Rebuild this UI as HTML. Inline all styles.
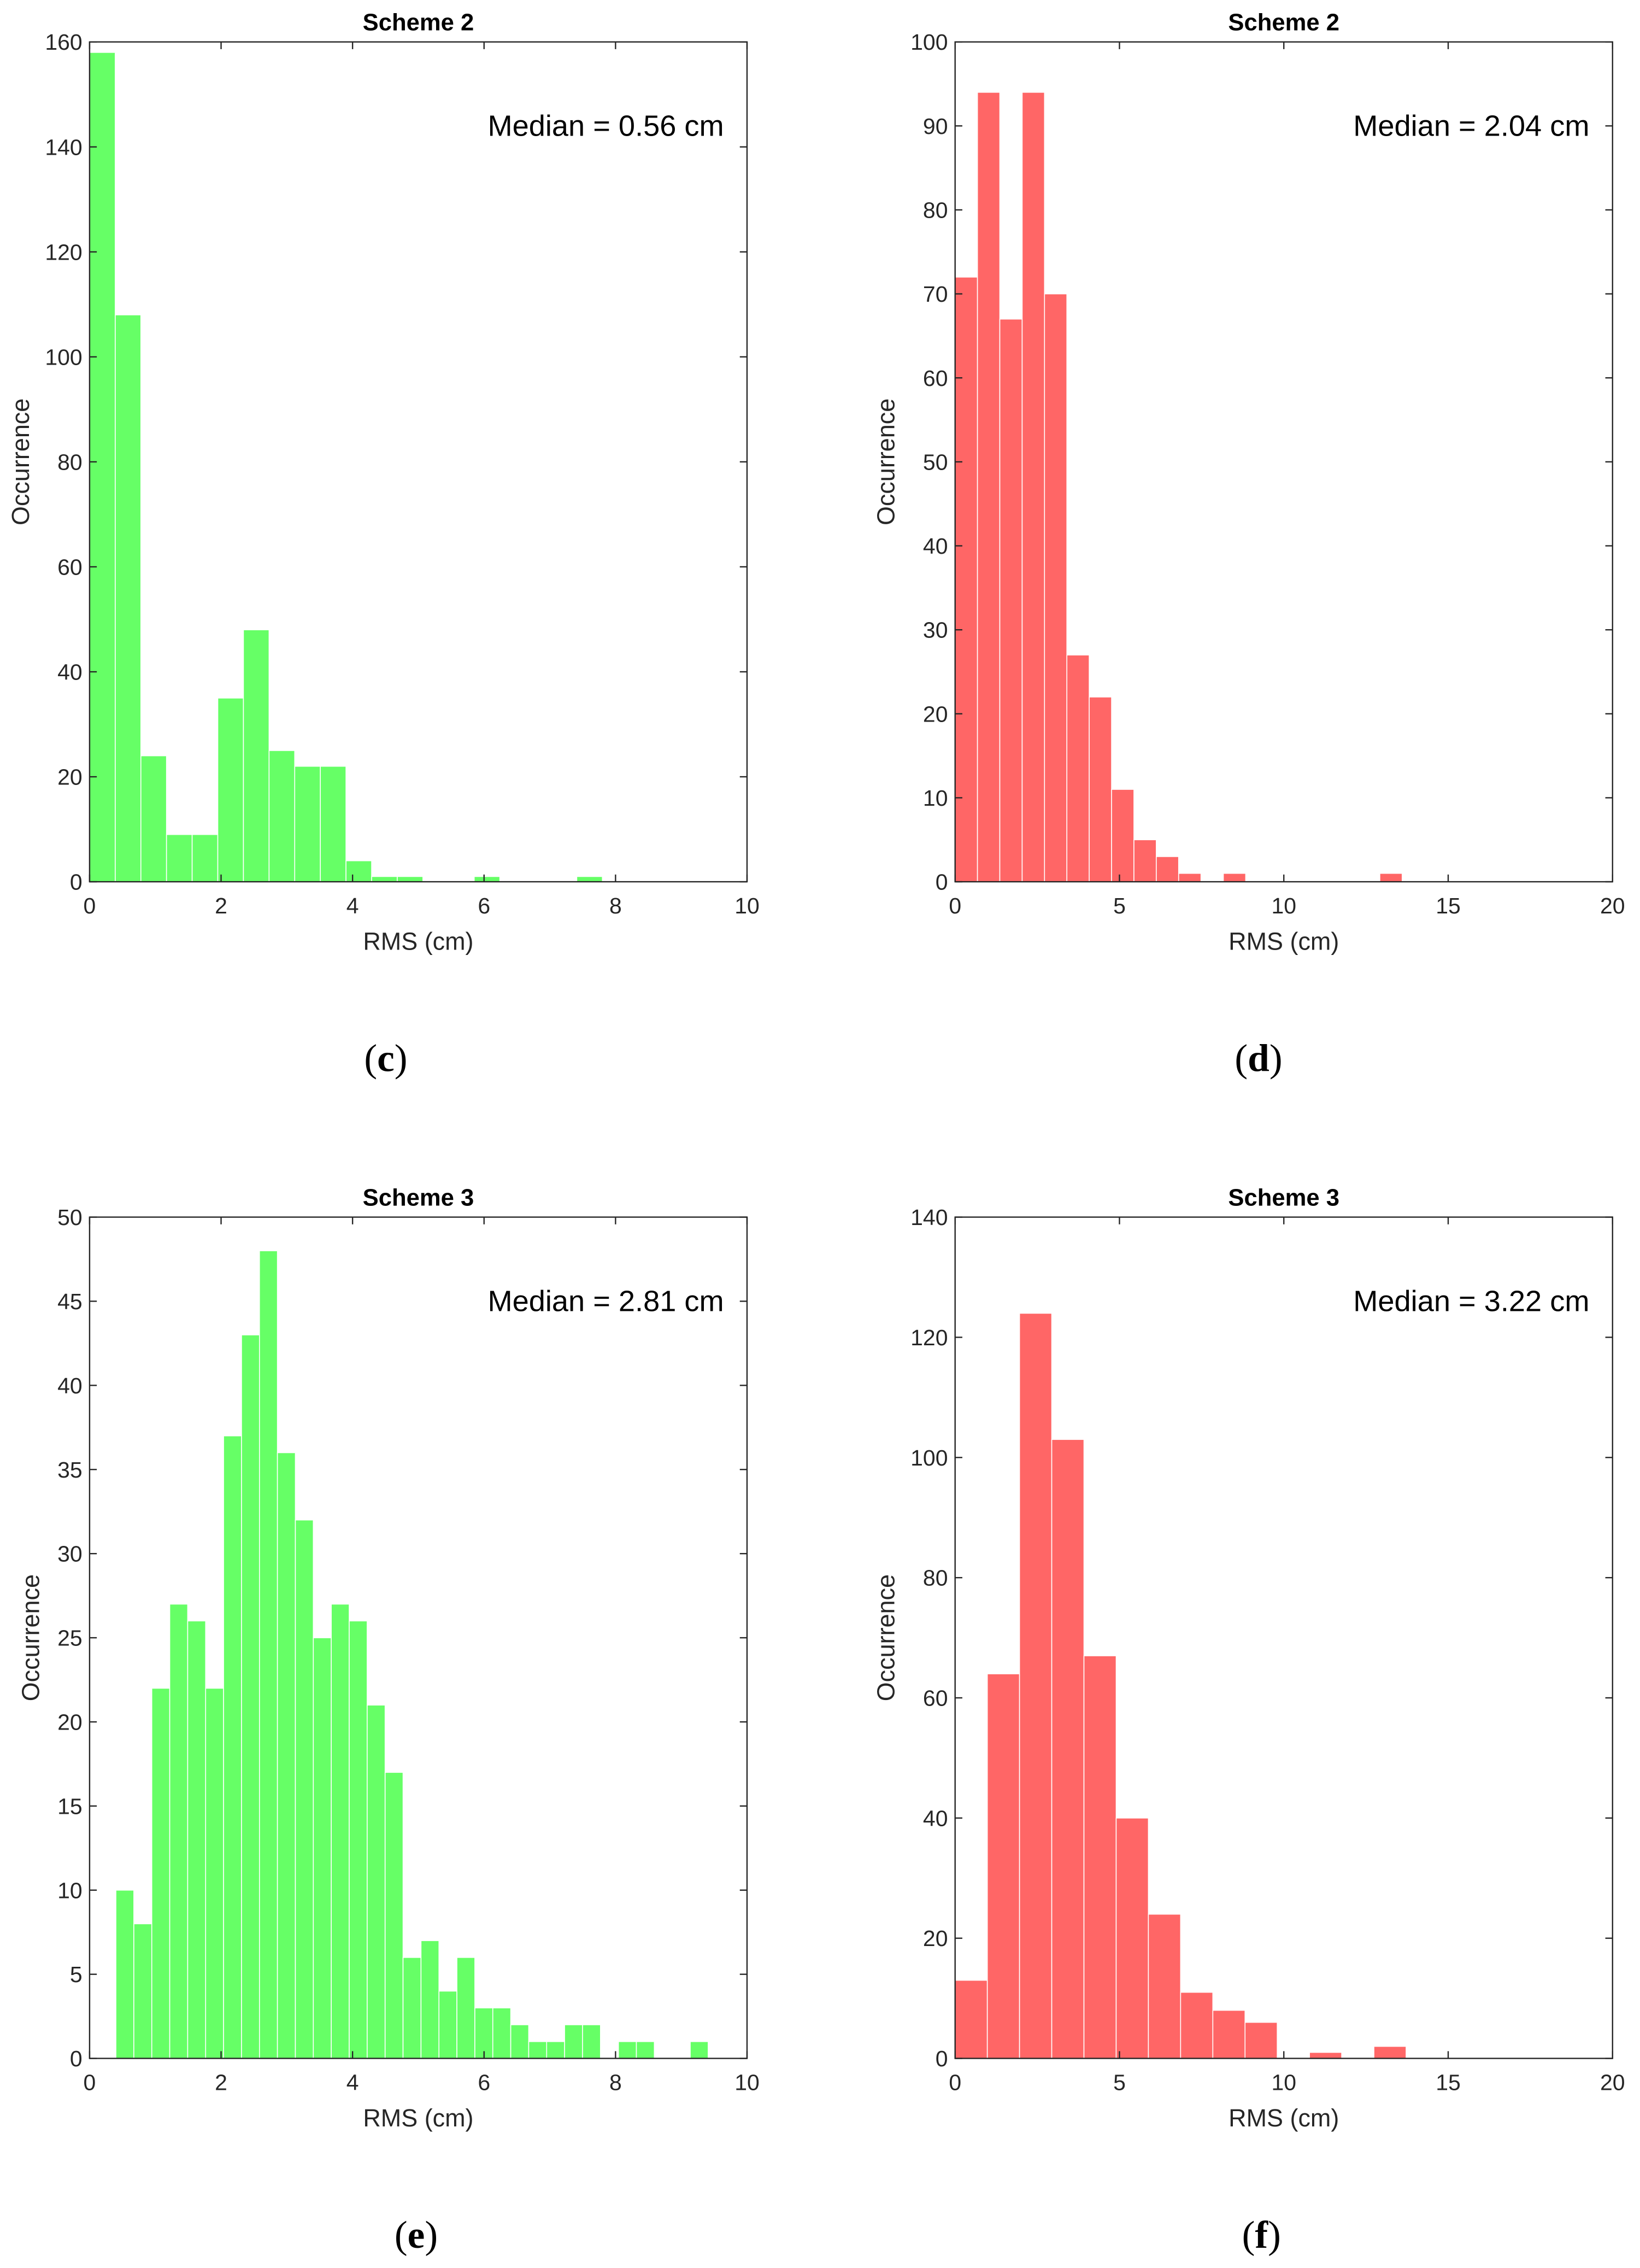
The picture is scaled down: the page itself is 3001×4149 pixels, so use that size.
<!DOCTYPE html>
<html><head><meta charset="utf-8"><style>
html,body{margin:0;padding:0;background:#fff;}
svg{display:block;font-family:"Liberation Sans",sans-serif;}
</style></head><body>
<svg id="fig" width="3001" height="4149" viewBox="0 0 1135 1569" preserveAspectRatio="none" xmlns="http://www.w3.org/2000/svg"></svg>
<script>
// Panel (c) Scheme 2 green
const cStart = 0, cWidth = 0.39;
const cCounts = [158,108,24,9,9,35,48,25,22,22,4,1,1,0,0,1,0,0,0,1];
const cYTicks = [0,20,40,60,80,100,120,140,160];
const cXTicks = [0,2,4,6,8,10];
// Panel (d) Scheme 2 red
const dStart = 0, dWidth = 0.68;
const dCounts = [72,94,67,94,70,27,22,11,5,3,1,0,1,0,0,0,0,0,0,1];
const dYTicks = [0,10,20,30,40,50,60,70,80,90,100];
const dXTicks = [0,5,10,15,20];
// Panel (e) Scheme 3 green
const eStart = 0.4, eWidth = 0.273;
const eCounts = [10,8,22,27,26,22,37,43,48,36,32,25,27,26,21,17,6,7,4,6,3,3,2,1,1,2,2,0,1,1,0,0,1];
const eYTicks = [0,5,10,15,20,25,30,35,40,45,50];
const eXTicks = [0,2,4,6,8,10];
// Panel (f) Scheme 3 red
const fStart = 0, fWidth = 0.98;
const fCounts = [13,64,124,103,67,40,24,11,8,6,0,1,0,2];
const fYTicks = [0,20,40,60,80,100,120,140];
const fXTicks = [0,5,10,15,20];

const NS = "http://www.w3.org/2000/svg";
const svg = document.getElementById('fig');
function mk(tag, attrs, parent, txt){
  const e = document.createElementNS(NS, tag);
  for (const k in attrs) e.setAttribute(k, attrs[k]);
  if (txt !== undefined) e.textContent = txt;
  parent.appendChild(e); return e;
}
function panel(id, x0, x1, y0, y1, xmax, ymax, start, width, counts, yt, xt, color, title, median, label, labelX, labelY){
  const g = mk('g', {}, svg);
  
  
  const sx = v => x0 + (v / xmax) * (x1 - x0);
  const sy = v => y1 - (v / ymax) * (y1 - y0);
  counts.forEach((c, i) => {
    if (c <= 0) return;
    const a = sx(start + i * width), b = sx(start + (i + 1) * width);
    const r = mk('rect', {x:a, y:sy(c), width:b - a, height:sy(0) - sy(c), fill:color, stroke:'#ffffff', 'stroke-width':0.6}, g);
    
    
  });
  const box = mk('rect', {x:x0, y:y0, width:x1 - x0, height:y1 - y0, fill:'none', stroke:'#262626', 'stroke-width':0.9}, g);
  
  
  yt.forEach(v => {
    const y = sy(v);
    mk('line', {x1:x0, x2:x0 + 5, y1:y, y2:y, stroke:'#262626', 'stroke-width':0.9}, g);
    mk('line', {x1:x1, x2:x1 - 5, y1:y, y2:y, stroke:'#262626', 'stroke-width':0.9}, g);
    const t = mk('text', {x:x0 - 5, y:y + 5.5, 'text-anchor':'end', 'font-size':15.5, fill:'#262626'}, g, String(v));
    
    
  });
  xt.forEach(v => {
    const x = sx(v);
    mk('line', {x1:x, x2:x, y1:y1, y2:y1 - 5, stroke:'#262626', 'stroke-width':0.9}, g);
    mk('line', {x1:x, x2:x, y1:y0, y2:y0 + 5, stroke:'#262626', 'stroke-width':0.9}, g);
    const t = mk('text', {x:x, y:y1 + 22, 'text-anchor':'middle', 'font-size':15.5, fill:'#262626'}, g, String(v));
    
    
  });
  const tt = mk('text', {x:(x0 + x1) / 2, y:y0 - 8, 'text-anchor':'middle', 'font-size':16.5, 'font-weight':'bold', fill:'#000'}, g, title);
  
  
  const md = mk('text', {x:x1 - 16, y:y0 + 65, 'text-anchor':'end', 'font-size':20.5, fill:'#000'}, g, median);
  
  
  const xl = mk('text', {x:(x0 + x1) / 2, y:y1 + 47, 'text-anchor':'middle', 'font-size':17, fill:'#262626'}, g, 'RMS (cm)');
  
  
  const ylx = x0 - (ymax >= 100 ? 42 : 35), yly = (y0 + y1) / 2;
  const yl = mk('text', {x:ylx, y:yly, 'text-anchor':'middle', 'font-size':17, fill:'#262626', transform:'rotate(-90 ' + ylx + ' ' + yly + ')'}, g, 'Occurrence');
  
  
  const pl = mk('text', {x:labelX, y:labelY, 'text-anchor':'middle', 'font-size':27, 'font-family':'"Liberation Serif",serif', fill:'#000'}, g);
  
  
  mk('tspan', {}, pl, '(');
  mk('tspan', {'font-weight':'bold'}, pl, label);
  mk('tspan', {}, pl, ')');
}
panel('c', 62, 517, 29, 610, 10, 160, cStart, cWidth, cCounts, cYTicks, cXTicks, '#66ff66', 'Scheme 2', 'Median = 0.56 cm', 'c', 267, 741);
panel('d', 661, 1116, 29, 610, 20, 100, dStart, dWidth, dCounts, dYTicks, dXTicks, '#ff6666', 'Scheme 2', 'Median = 2.04 cm', 'd', 871, 741);
panel('e', 62, 517, 842, 1424, 10, 50, eStart, eWidth, eCounts, eYTicks, eXTicks, '#66ff66', 'Scheme 3', 'Median = 2.81 cm', 'e', 288, 1555);
panel('f', 661, 1116, 842, 1424, 20, 140, fStart, fWidth, fCounts, fYTicks, fXTicks, '#ff6666', 'Scheme 3', 'Median = 3.22 cm', 'f', 873, 1555);
</script>
</body></html>
